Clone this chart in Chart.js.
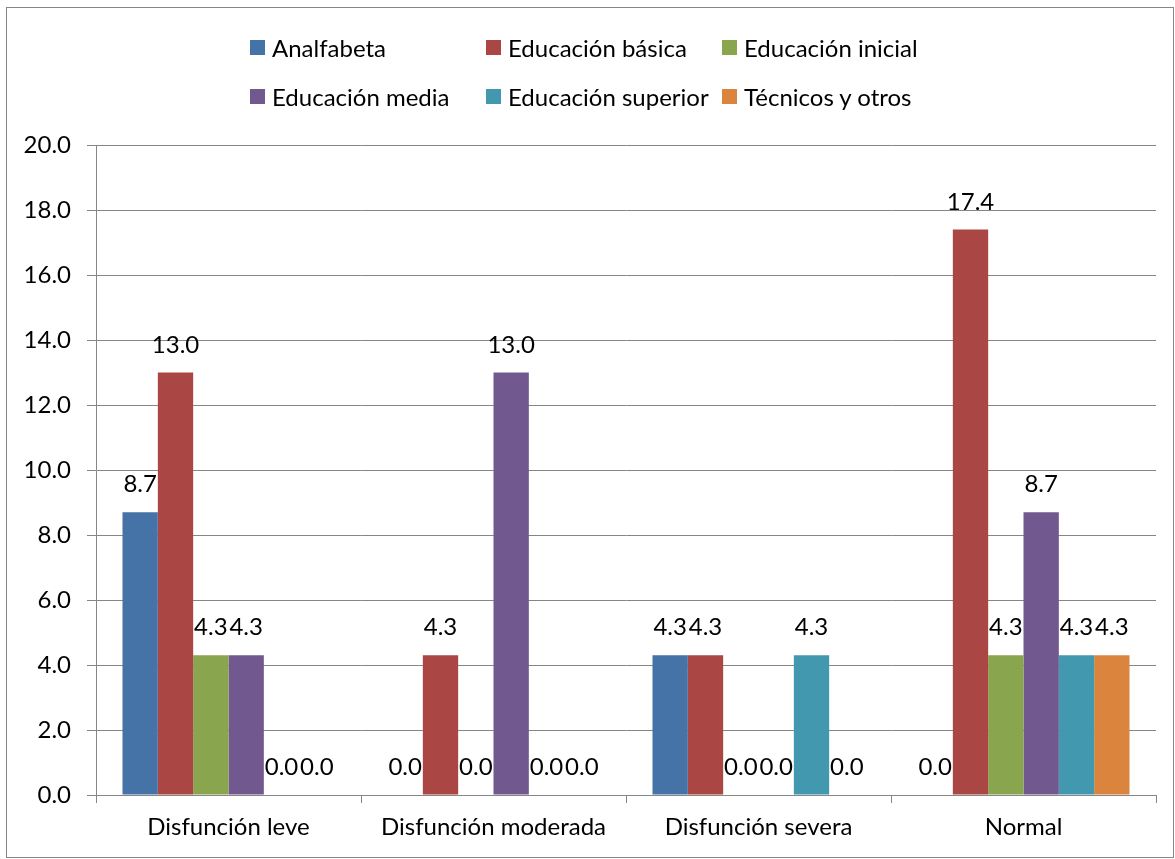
<!DOCTYPE html>
<html>
<head>
<meta charset="utf-8">
<script src="https://cdn.jsdelivr.net/npm/chart.js@4.4.1/dist/chart.umd.min.js"></script>
<style>
body { margin: 0; background: #fff; }
#wrap { position: relative; width: 1175px; height: 859px; }
#chart { position: absolute; left: 0; top: 0; }
.leg { position: absolute; display: flex; align-items: center; height: 30px; font: 24px Lato, sans-serif; color: #000; white-space: nowrap; }
.leg span.box { display: inline-block; width: 15px; height: 15px; margin-right: 7px; }
</style>
</head>
<body>
<div id="wrap">
  <canvas id="chart" width="1175" height="859"></canvas>
  <div id="legend"></div>
</div>
<script>
// categories and series
const categories = ['Disfunción leve', 'Disfunción moderada', 'Disfunción severa', 'Normal'];
const seriesNames = ['Analfabeta', 'Educación básica', 'Educación inicial', 'Educación media', 'Educación superior', 'Técnicos y otros'];
const analfabeta = [8.7, 0.0, 4.3, 0.0];
const basica = [13.0, 4.3, 4.3, 17.4];
const inicial = [4.3, 0.0, 0.0, 4.3];
const media = [4.3, 13.0, 0.0, 8.7];
const superior = [0.0, 0.0, 4.3, 4.3];
const tecnicos = [0.0, 0.0, 0.0, 4.3];
const yTicks = [0, 2, 4, 6, 8, 10, 12, 14, 16, 18, 20];

const colors = ['#4572A7', '#AA4643', '#89A54E', '#71588F', '#4198AF', '#DB843D'];
const seriesValues = [analfabeta, basica, inicial, media, superior, tecnicos];
const FONT = 'Lato, sans-serif';

const datasets = seriesNames.map((name, i) => ({
    label: name,
    data: seriesValues[i],
    backgroundColor: colors[i],
    borderWidth: 0,
    categoryPercentage: 0.8,
    barPercentage: 1.0
}));

// html legend, laid out in fixed columns like the original
const legendPos = [[250, 32], [486, 32], [722, 32], [250, 81], [486, 81], [722, 81]];
const legend = document.getElementById('legend');
seriesNames.forEach((name, i) => {
    const d = document.createElement('div');
    d.className = 'leg';
    d.style.left = legendPos[i][0] + 'px';
    d.style.top = legendPos[i][1] + 'px';
    d.innerHTML = '<span class="box" style="background:' + colors[i] + '"></span>' + name;
    legend.appendChild(d);
});

// frame round the whole chart
const frame = {
    id: 'frame',
    beforeDraw(chart) {
        const ctx = chart.ctx;
        ctx.save();
        ctx.fillStyle = '#fff';
        ctx.fillRect(0, 0, chart.width, chart.height);
        ctx.strokeStyle = '#868686';
        ctx.lineWidth = 1;
        ctx.strokeRect(6.5, 7.5, 1167, 850);
        ctx.restore();
    }
};

// value labels above each bar
const valueLabels = {
    id: 'valueLabels',
    afterDatasetsDraw(chart) {
        const ctx = chart.ctx;
        ctx.save();
        ctx.font = '24px ' + FONT;
        ctx.fillStyle = '#000';
        ctx.textAlign = 'center';
        ctx.textBaseline = 'alphabetic';
        chart.data.datasets.forEach((ds, i) => {
            chart.getDatasetMeta(i).data.forEach((bar, j) => {
                ctx.fillText(ds.data[j].toFixed(1), bar.x, bar.y - 20);
            });
        });
        ctx.restore();
    }
};

const ctx = document.getElementById('chart').getContext('2d');
const chart = new Chart(ctx, {
    type: 'bar',
    data: { labels: categories, datasets: datasets },
    options: {
        responsive: false,
        animation: false,
        devicePixelRatio: 1,
        layout: { padding: { top: 145, right: 19, left: 0, bottom: 0 } },
        plugins: {
            legend: { display: false },
            tooltip: { enabled: false }
        },
        scales: {
            x: {
                afterFit(scale) { scale.height = 64; },
                grid: { offset: true, drawOnChartArea: false, color: '#868686', tickLength: 8 },
                border: { color: '#868686' },
                ticks: { color: '#000', font: { family: FONT, size: 24 }, padding: 10 }
            },
            y: {
                min: 0,
                max: 20,
                afterFit(scale) { scale.width = 96; },
                afterBuildTicks(scale) { scale.ticks = yTicks.map(v => ({ value: v })); },
                grid: { color: '#868686', tickLength: 9 },
                border: { color: '#868686' },
                ticks: {
                    color: '#000',
                    font: { family: FONT, size: 24 },
                    padding: 16,
                    callback: v => Number(v).toFixed(1)
                }
            }
        }
    },
    plugins: [frame, valueLabels]
});
</script>
</body>
</html>
